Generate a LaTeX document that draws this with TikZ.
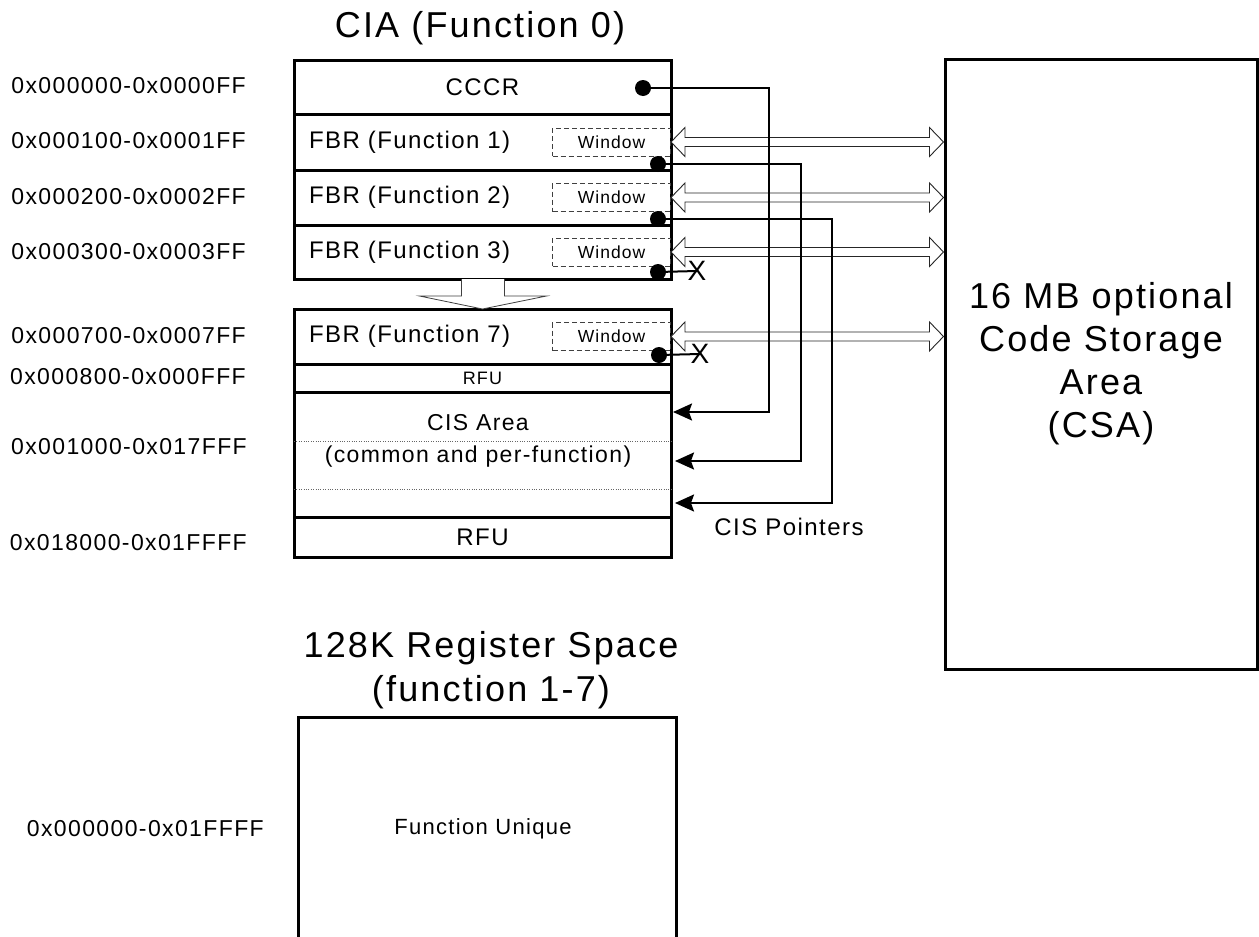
\documentclass[tikz,border=0pt]{standalone}
\usepackage{fontspec}
\setmainfont{Liberation Sans}[LetterSpace=6]
\usetikzlibrary{positioning, arrows.meta, calc}

\begin{document}
\begin{tikzpicture}[x=1pt, y=-1pt,
  row/.style={draw, line width=3pt, minimum width=377pt, inner sep=0pt, outer sep=0pt, font=\fontsize{24}{28}\selectfont},
  fbrrow/.style={row, align=left, text width=347pt, inner xsep=15pt},
  window/.style={draw=black!75, dashed, dash pattern=on 5pt off 3pt, line width=0.8pt, minimum width=118pt, minimum height=28pt, inner sep=0pt, anchor=east, font=\fontsize{17.5}{20}\selectfont},
  dot/.style={circle, fill, inner sep=0pt, minimum size=16pt},
  addr/.style={anchor=east, inner sep=0pt, font=\fontsize{23}{26}\selectfont},
  title/.style={align=center, inner sep=0pt, font=\fontsize{36}{44}\selectfont},
  ptr/.style={line width=2pt, -{Stealth[length=19pt, width=17pt, inset=3pt]}},
  cross/.style={inner sep=0pt, font=\fontsize{28}{30}\selectfont},
  dbl/.style={draw=black!85, line width=0.9pt, fill=white},
  hollow/.style={draw=black!75, line width=0.8pt, fill=white}]

\useasboundingbox (0,0) rectangle (1259,937);
\fill[white] (0,0) rectangle (1259,937);

% titles
\node[title] (ciatitle) at (480,28) {CIA (Function 0)};
\node[title] (regtitle) at (491,670) {128K Register Space\\(function 1-7)};

% CIA, first block
\node[row, minimum height=54pt] (cccr) at (482.5,87) {CCCR};
\node[fbrrow, minimum height=56pt, below=0pt of cccr] (fbr1) {FBR (Function 1)};
\node[fbrrow, minimum height=55pt, below=0pt of fbr1] (fbr2) {FBR (Function 2)};
\node[fbrrow, minimum height=54pt, below=0pt of fbr2] (fbr3) {FBR (Function 3)};

% CIA, second block
\node[fbrrow, minimum height=55pt] (fbr7) at (482.5,336.5) {FBR (Function 7)};
\node[row, minimum height=28pt, below=0pt of fbr7, font=\fontsize{18}{20}\selectfont] (rfua) {RFU};
\node[row, minimum height=125pt, below=0pt of rfua] (cis) {};
\node[row, minimum height=40pt, below=0pt of cis] (rfub) {RFU};
\draw[dotted, black!60] ($(cis.west)+(0,-13.5)$) -- ($(cis.east)+(0,-13.5)$);
\draw[dotted, black!60] ($(cis.west)+(0,34.5)$) -- ($(cis.east)+(0,34.5)$);
\node[align=center, inner sep=0pt, font=\fontsize{23}{32}\selectfont] (cistext) at (478,441) {CIS Area\\(common and per-function)};

% hollow arrow between the blocks
\draw[hollow] ($(fbr3.south)+(-21,0)$) -- ++(0,17) -- ++(-42,0) -- (fbr7.north)
  -- ($(fbr3.south)+(64,17)$) -- ++(-42,0) -- ++(0,-17);

% windows
\node[window] (win1) at (fbr1.east) {Window};
\node[window] (win2) at (fbr2.east) {Window};
\node[window] (win3) at (fbr3.east) {Window};
\node[window] (win7) at (fbr7.east) {Window};

% CSA
\node[draw, line width=3pt, minimum width=312pt, minimum height=610pt, align=center,
  font=\fontsize{36}{43}\selectfont] (csa) at (1101,364) {16 MB optional\\Code Storage\\Area\\(CSA)};

% window <-> CSA
\foreach \w in {win1,win2,win3,win7} {
  \coordinate (e) at (\w.east -| csa.west);
  \draw[dbl] (\w.east) -- ++(14,-14.5) -- ++(0,10) -- ($(e)+(-14,-4.5)$) -- ++(0,-10)
    -- (e) -- ++(-14,14.5) -- ++(0,-10) -- ($(\w.east)+(14,4.5)$) -- ++(0,10) -- cycle;
}

% pointer dots
\node[dot] (d0) at ($(cccr.east)+(-28,1)$) {};
\node[dot] (d1) at ($(fbr1.south east)+(-13,-6)$) {};
\node[dot] (d2) at ($(fbr2.south east)+(-13,-6)$) {};
\node[dot] (d3) at ($(fbr3.south east)+(-13,-7)$) {};
\node[dot] (d7) at ($(fbr7.south east)+(-12,-9)$) {};

% CIS pointers
\coordinate (b0) at (769,412);
\coordinate (b1) at (801,461);
\coordinate (b2) at (832,503);
\coordinate (t0) at (673,412);
\coordinate (t1) at (675,461);
\coordinate (t2) at (675,503);
\draw[ptr] (d0) -| (b0) -- (t0);
\draw[ptr] (d1) -| (b1) -- (t1);
\draw[ptr] (d2) -| (b2) -- (t2);
\node[inner sep=0pt, font=\fontsize{24}{28}\selectfont] (cisptr) at (789,527) {CIS Pointers};

% unused pointers
\node[cross] (x3) at (697,271) {X};
\node[cross] (x7) at (700,354) {X};
\draw[line width=2pt] (d3) -- (x3.center);
\draw[line width=2pt] (d7) -- (x7.center);

% register space
\node[draw, line width=3pt, minimum width=378pt, minimum height=300pt, anchor=north, outer sep=0pt] (regspace) at (487,717) {};
\node[inner sep=0pt, font=\fontsize{22}{26}\selectfont] (funique) at (483,829) {Function Unique};

% addresses
\node[addr] (a0) at (246,86) {0x000000-0x0000FF};
\node[addr] (a1) at (246,141) {0x000100-0x0001FF};
\node[addr] (a2) at (246,197) {0x000200-0x0002FF};
\node[addr] (a3) at (246,252) {0x000300-0x0003FF};
\node[addr] (a7) at (246,336) {0x000700-0x0007FF};
\node[addr] (a8) at (246,377) {0x000800-0x000FFF};
\node[addr] (a9) at (247,447) {0x001000-0x017FFF};
\node[addr] (a10) at (247,543) {0x018000-0x01FFFF};
\node[addr] (r0) at (264,829) {0x000000-0x01FFFF};

\end{tikzpicture}
\end{document}
